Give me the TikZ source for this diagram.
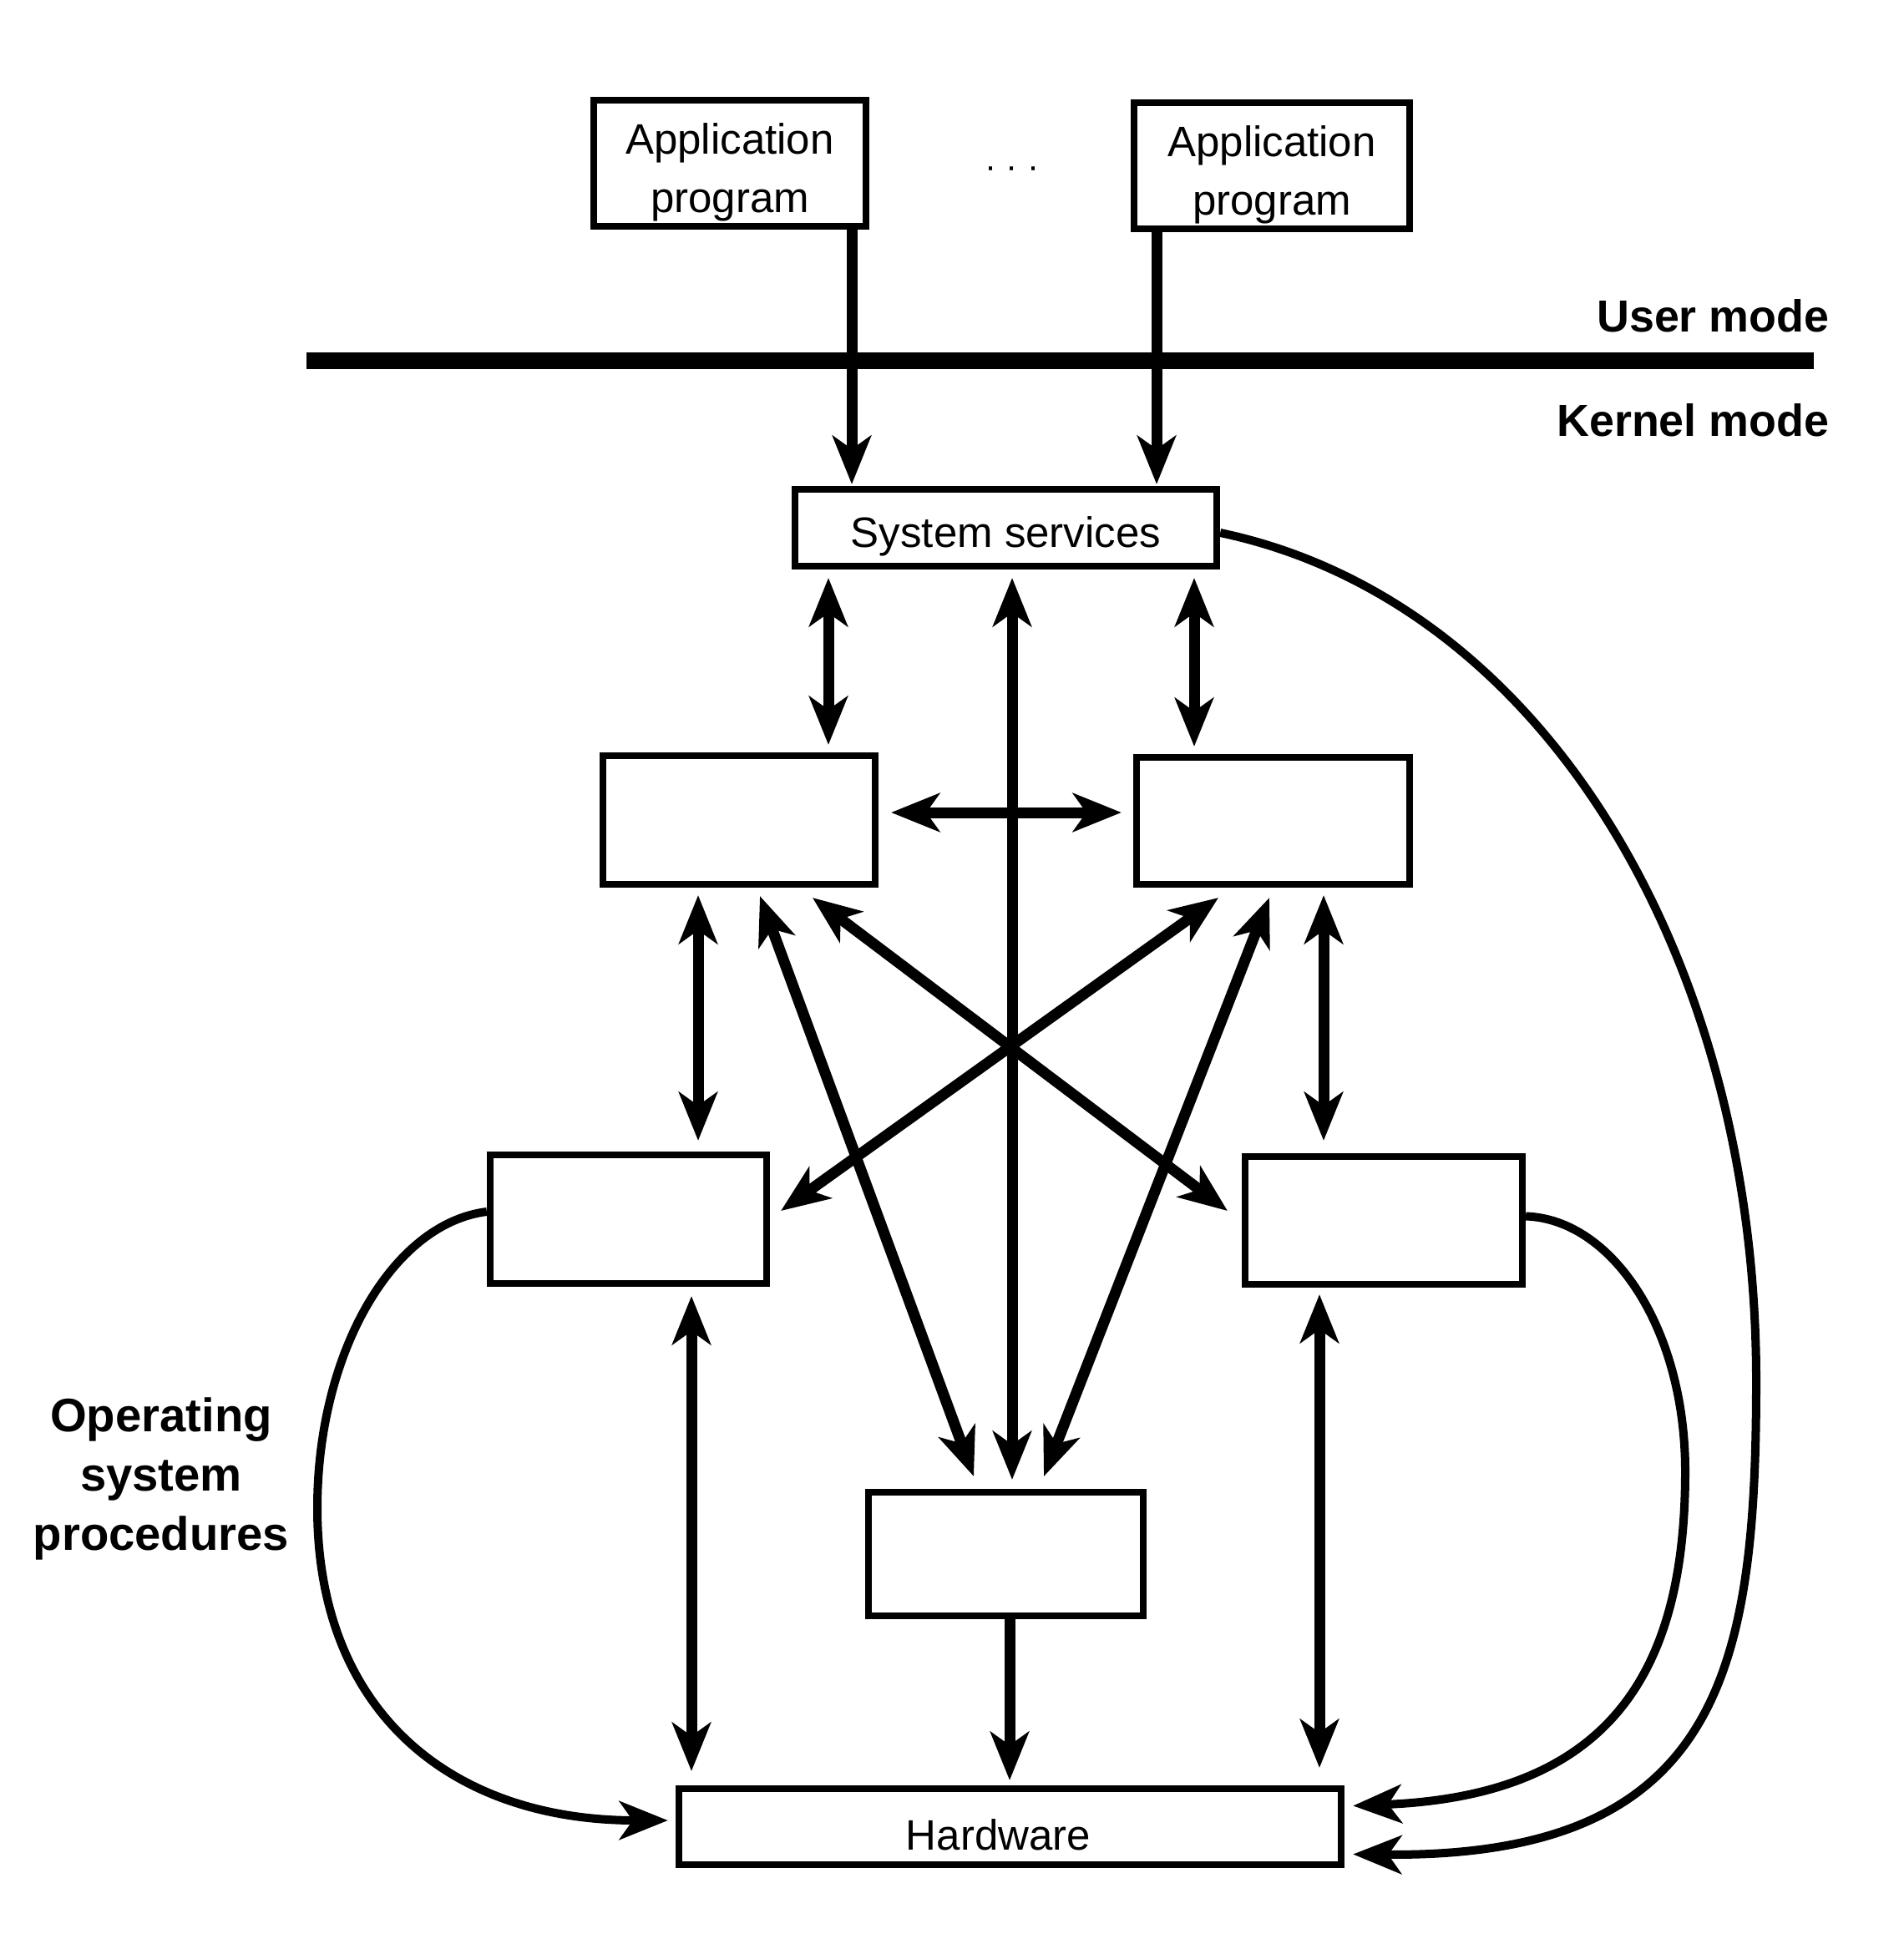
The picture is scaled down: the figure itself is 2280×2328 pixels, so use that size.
\documentclass[tikz,border=0pt]{standalone}
\usepackage{fontspec}
\setmainfont{Liberation Sans}
\usetikzlibrary{arrows.meta,calc}
\newcommand\lowtext[1]{\raisebox{-2.9pt}[\height][\depth]{#1}}
\begin{document}
\begin{tikzpicture}[x=0.01cm,y=-0.01cm,
  >={Stealth[length=5.8mm,width=4.6mm,inset=1.6mm]},
  box/.style={draw,line width=0.08cm,inner sep=0pt,align=center,
    font=\fontsize{14.5}{20}\selectfont},
  arr/.style={line width=0.13cm},
  crv/.style={line width=0.10cm},
  lbl/.style={inner sep=0pt,font=\bfseries\fontsize{15.3}{20}\selectfont}]
\useasboundingbox (0,0) rectangle (2280,2328);

% boxes
\node[box,minimum width=3.26cm,minimum height=1.51cm] (A1) at (874,195.5)
  {\lowtext{\begin{tabular}{@{}c@{}}Application\\program\end{tabular}}};
\node[box,minimum width=3.30cm,minimum height=1.51cm] (A2) at (1523,198.5)
  {\lowtext{\begin{tabular}{@{}c@{}}Application\\program\end{tabular}}};
\node[box,minimum width=5.05cm,minimum height=0.92cm] (SS) at (1204.5,632) {\lowtext{System services}};
\node[box,minimum width=3.26cm,minimum height=1.54cm] (ML) at (885,982) {};
\node[box,minimum width=3.27cm,minimum height=1.52cm] (MR) at (1524.5,983) {};
\node[box,minimum width=3.31cm,minimum height=1.54cm] (LL) at (752.5,1460) {};
\node[box,minimum width=3.32cm,minimum height=1.53cm] (LR) at (1657,1461.5) {};
\node[box,minimum width=3.29cm,minimum height=1.48cm] (BC) at (1204.5,1861) {};
\node[box,minimum width=7.93cm,minimum height=0.91cm] (HW) at (1209.5,2187.5) {\lowtext{Hardware\hspace{8pt}}};

% labels
\node[inner sep=0pt,font=\fontsize{12}{14}\selectfont] (dots) at (1212,207) {· · ·};
\node[lbl,anchor=east] (um) at (2191,378) {User mode};
\node[lbl,anchor=east] (km) at (2191,503) {Kernel mode};
\node[inner sep=0pt,align=center,font=\bfseries\fontsize{16}{20.2}\selectfont] (osp) at (193,1771) {Operating\\system\\procedures};

% user / kernel separator
\coordinate (sepL) at (367,432);
\coordinate (sepR) at (2172,432);
\draw[line width=0.19cm] (sepL) -- (sepR);

% straight connectors
\draw[arr,->] ($(A1.south)+(146,0)$) -- ($(SS.north)+(-184.5,-2)$);
\draw[arr,->] ($(A2.south)+(-138,0)$) -- ($(SS.north)+(180.5,-2)$);
\draw[arr,<->] ($(SS.south)+(-212.5,10)$) -- ($(ML.north)+(107,-9)$);
\draw[arr,<->] ($(SS.south)+(225.5,10)$) -- ($(MR.north)+(-94.5,-9)$);
\draw[arr,<->] ($(SS.south)+(7.5,10)$) -- ($(BC.north)+(7.5,-11)$);
\draw[arr,<->] ($(ML.east)+(15,-9)$) -- ($(MR.west)+(-14,-10)$);
\draw[arr,<->] ($(ML.south)+(-49,9)$) -- ($(LL.north)+(83.5,-13)$);
\draw[arr,<->] ($(MR.south)+(60.5,9)$) -- ($(LR.north)+(-72,-15)$);
\draw[arr,<->] ($(ML.south)+(88,12)$) -- ($(LR.west)+(-17,-11.5)$);
\draw[arr,<->] ($(MR.south)+(-65.5,12)$) -- ($(LL.east)+(13,-10)$);
\draw[arr,<->] ($(ML.south)+(25,10)$) -- ($(BC.north)+(-38.5,-15)$);
\draw[arr,<->] ($(MR.south)+(-4.5,12)$) -- ($(BC.north)+(45.5,-15)$);
\draw[arr,<->] ($(LL.south)+(75.5,11)$) -- ($(HW.north)+(-381.5,-17)$);
\draw[arr,<->] ($(LR.south)+(-77,8)$) -- ($(HW.north)+(370.5,-21)$);
\draw[arr,->] ($(BC.south)+(4.5,0)$) -- ($(HW.north)+(-0.5,-6)$);

% curved connectors
\draw[crv,->] ($(LL.west)+(0,-9)$) .. controls (470,1465) and (380,1620) .. (380,1806)
   .. controls (380,2050) and (540,2180) .. ($(HW.west)+(-9,-7.5)$);
\draw[crv,->] ($(LR.east)+(0,-5)$) .. controls (1930,1460) and (2018,1590) .. (2018,1762)
   .. controls (2018,2000) and (1930,2150) .. ($(HW.east)+(10,-25)$);
\draw[crv,->] ($(SS.east)+(0,6)$) .. controls (1850,720) and (2103,1150) .. (2103,1653)
   .. controls (2103,2000) and (2060,2225) .. ($(HW.east)+(10,33)$);
\end{tikzpicture}
\end{document}
